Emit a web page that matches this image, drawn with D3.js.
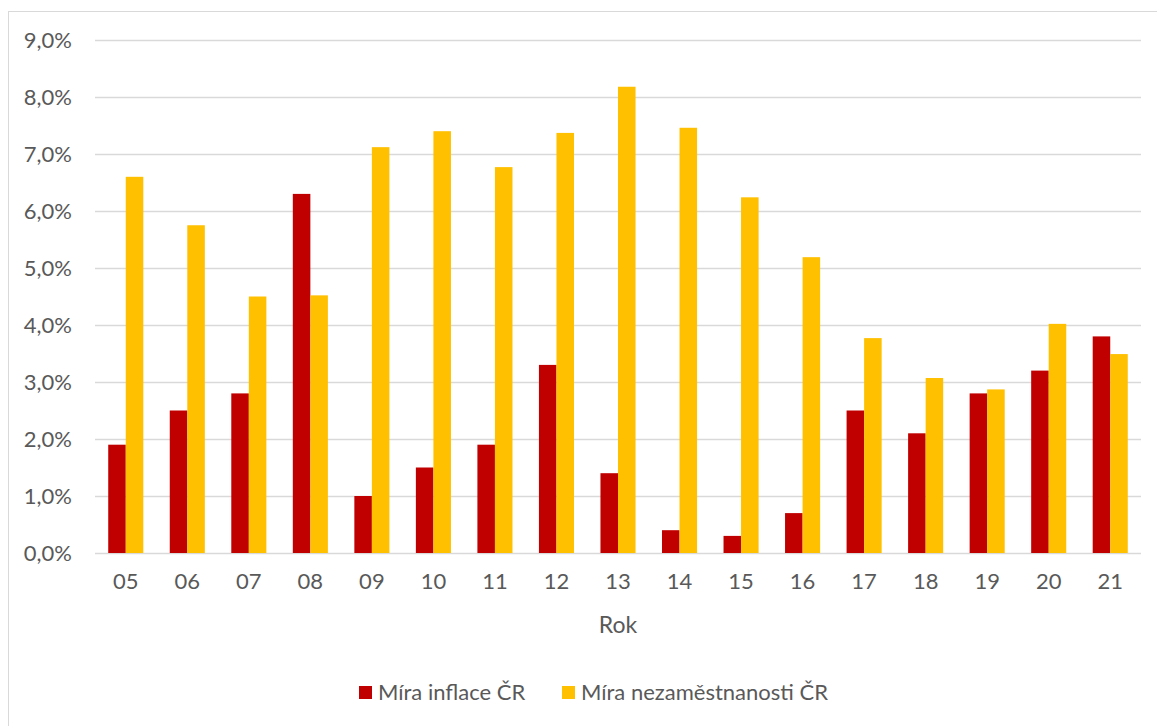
<!DOCTYPE html>
<html><head><meta charset="utf-8">
<script src="https://cdn.jsdelivr.net/npm/d3@7"></script>
<style>body{margin:0;background:#fff}svg{display:block}text{font-family:Lato,"Open Sans",sans-serif;fill:#595959}</style>
</head><body><svg id="c" width="1157" height="726"></svg>
<script>
const years = ["05","06","07","08","09","10","11","12","13","14","15","16","17","18","19","20","21"];
const inflation = [1.9,2.5,2.8,6.3,1.0,1.5,1.9,3.3,1.4,0.4,0.3,0.7,2.5,2.1,2.8,3.2,3.8];
const unemployment = [6.6,5.75,4.5,4.52,7.12,7.4,6.77,7.37,8.18,7.46,6.24,5.19,3.77,3.07,2.87,4.02,3.49];
const seriesNames = ["Míra inflace ČR","Míra nezaměstnanosti ČR"];
const colors = ["#C00000","#FFC000"];
const yTicks = [0,1,2,3,4,5,6,7,8,9];

const svg = d3.select("#c");
svg.append("rect").attr("x",8.5).attr("y",11.5).attr("width",1160).attr("height",730)
  .attr("fill","none").attr("stroke","#d9d9d9").attr("stroke-width",1);

const L=95,R=1141,T=40,B=553;
const x = d3.scaleBand().domain(years).range([L,R]).paddingInner(0.43).paddingOuter(0.215);
const xs = d3.scaleBand().domain([0,1]).range([0,x.bandwidth()]);
const y = d3.scaleLinear().domain([0,9]).range([B,T]);

const fmt = v => d3.format(".1f")(v).replace(".",",")+"%";
const gy = svg.append("g").attr("transform",`translate(${L},0)`)
  .call(d3.axisLeft(y).tickValues(yTicks).tickSize(-(R-L)).tickFormat(fmt).tickPadding(23));
gy.select(".domain").remove();
gy.selectAll(".tick line").attr("stroke","#d9d9d9").attr("stroke-width",1.5);
gy.selectAll(".tick text").attr("font-size",22).style("fill","#595959");

const gx = svg.append("g").attr("transform",`translate(0,${B})`)
  .call(d3.axisBottom(x).tickSize(0).tickPadding(20));
gx.select(".domain").remove();
gx.selectAll(".tick text").attr("font-size",22).style("fill","#595959");

const data = [inflation, unemployment];
data.forEach((vals,si)=>{
  svg.append("g").selectAll("rect").data(years).join("rect")
    .attr("x",d=>x(d)+xs(si)).attr("width",xs.bandwidth())
    .attr("y",(d,i)=>y(vals[i])).attr("height",(d,i)=>B-y(vals[i]))
    .attr("fill",colors[si]);
});

svg.append("text").attr("x",(L+R)/2).attr("y",633).attr("text-anchor","middle")
  .attr("font-size",23).text("Rok");

const lg = svg.append("g");
const lx = [359,562];
seriesNames.forEach((n,i)=>{
  lg.append("rect").attr("x",lx[i]).attr("y",686).attr("width",13).attr("height",13).attr("fill",colors[i]);
  lg.append("text").attr("x",lx[i]+19).attr("y",700).attr("font-size",22).text(n);
});
</script></body></html>
